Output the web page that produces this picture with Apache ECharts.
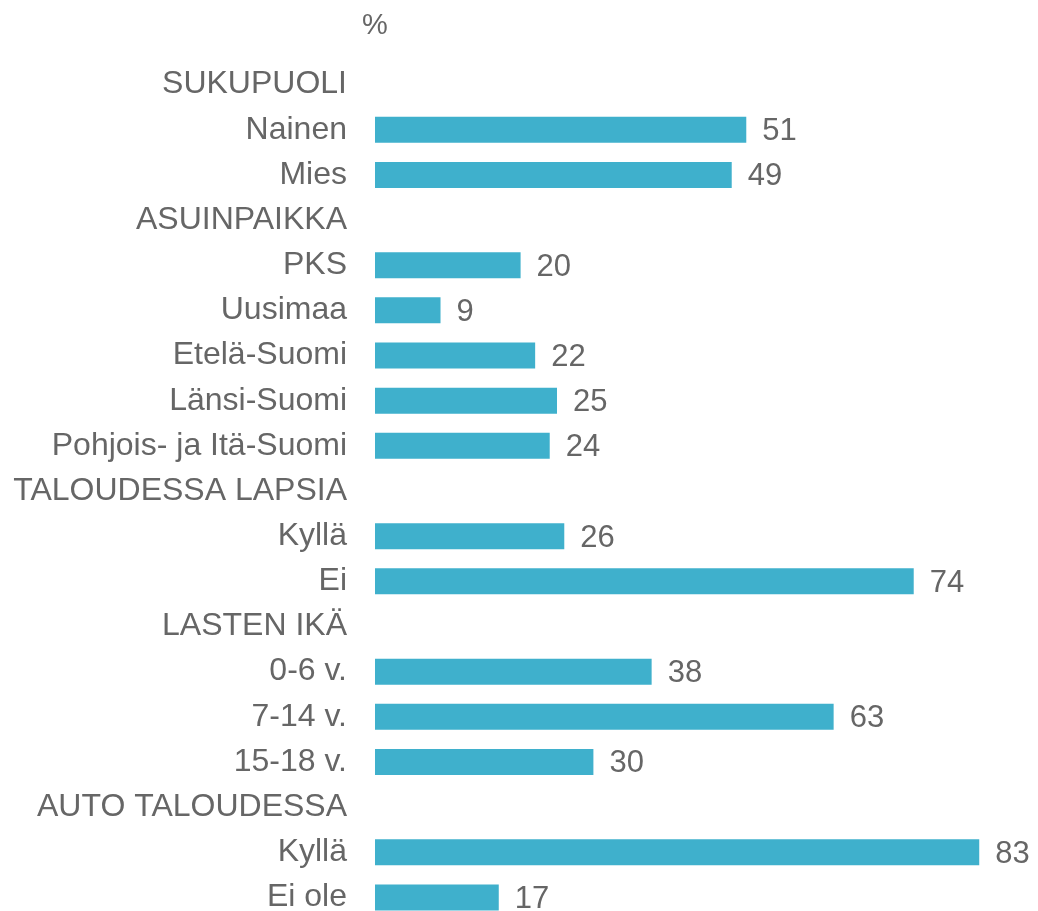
<!DOCTYPE html>
<html>
<head>
<meta charset="utf-8">
<script src="https://cdn.jsdelivr.net/npm/echarts@6/dist/echarts.min.js"></script>
<style>
  html, body { margin: 0; padding: 0; background: #fff; }
  #chart { width: 1038px; height: 911px; }
</style>
</head>
<body>
<div id="chart"></div>
<script>
// rivien otsikot (ryhmäotsikot ilman arvoa)
const categories = [
    "SUKUPUOLI", "Nainen", "Mies",
    "ASUINPAIKKA", "PKS", "Uusimaa", "Etelä-Suomi", "Länsi-Suomi", "Pohjois- ja Itä-Suomi",
    "TALOUDESSA LAPSIA", "Kyllä", "Ei",
    "LASTEN IKÄ", "0-6 v.", "7-14 v.", "15-18 v.",
    "AUTO TALOUDESSA", "Kyllä", "Ei ole"
];

// prosenttiosuudet
const values = [
    null, 51, 49,
    null, 20, 9, 22, 25, 24,
    null, 26, 74,
    null, 38, 63, 30,
    null, 83, 17
];

const unitLabel = "%";

const textColor = "#666666";
const barColor = "#3FB0CC";
const font = "'Liberation Sans', Arial, sans-serif";

const option = {
    animation: false,
    textStyle: { fontFamily: font },
    graphic: [{
        type: "text",
        left: 362,
        top: 11,
        style: { text: unitLabel, fontSize: 29, fill: textColor, fontFamily: font }
    }],
    grid: {
        left: 375,
        top: 62,
        width: 728,
        height: 858,
        outerBoundsMode: "none",
        containLabel: false
    },
    xAxis: {
        type: "value",
        min: 0,
        max: 100,
        show: false
    },
    yAxis: {
        type: "category",
        inverse: true,
        data: categories,
        axisLine: { show: false },
        axisTick: { show: false },
        splitLine: { show: false },
        axisLabel: {
            margin: 28,
            fontSize: 32,
            color: textColor,
            fontFamily: font
        }
    },
    series: [{
        type: "bar",
        data: values,
        barWidth: 26,
        itemStyle: { color: barColor },
        label: {
            show: true,
            position: "right",
            distance: 16,
            fontSize: 31,
            color: textColor,
            fontFamily: font,
            offset: [0, 2]
        }
    }]
};

const chart = echarts.init(document.getElementById("chart"));
chart.setOption(option);
</script>
</body>
</html>
